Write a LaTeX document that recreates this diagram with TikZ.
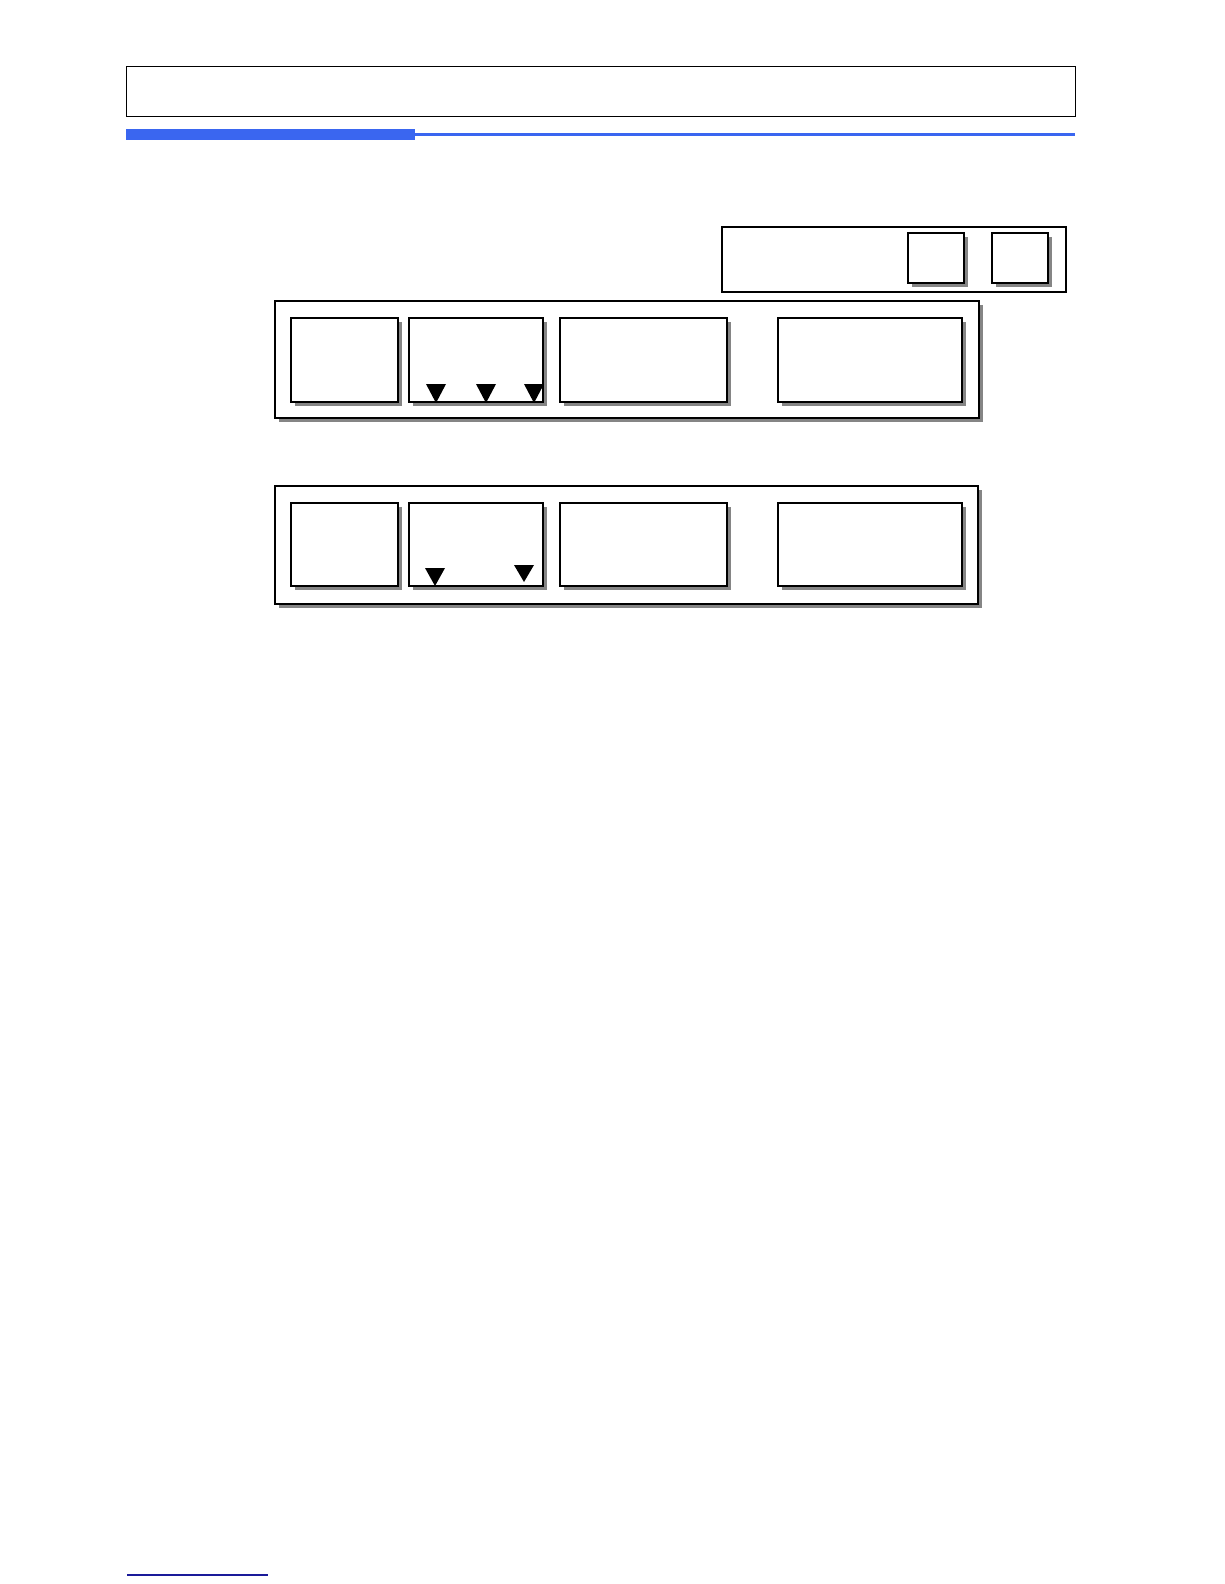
\documentclass[tikz,border=0pt]{standalone}
\usetikzlibrary{shadows}
\definecolor{barblue}{HTML}{3A66F0}
\definecolor{footblue}{HTML}{1A1A99}
\definecolor{shadowgray}{HTML}{858585}
\begin{document}
\begin{tikzpicture}[x=1pt,y=-1pt,
  frame/.style={draw=black,line width=1.3pt,fill=white,inner sep=0pt,
    drop shadow={shadow xshift=4pt,shadow yshift=-4pt,fill=shadowgray,opacity=1}},
  cell/.style={draw=black,line width=1.8pt,fill=white,inner sep=0pt,
    drop shadow={shadow xshift=4pt,shadow yshift=-4pt,fill=shadowgray,opacity=1}},
  plainbox/.style={draw=black,line width=1pt,fill=white,inner sep=0pt},
  tri/.style={fill=black}]
\fill[white] (0,0) rectangle (1224,1584);
\useasboundingbox (0,0) rectangle (1224,1584);
% header
\node[plainbox,minimum width=949pt,minimum height=50pt] (header) at (600.5,92) {};
\fill[barblue] (126,129) rectangle (415,140);
\fill[barblue] (415,133.5) rectangle (1075,136.5);
\draw[footblue,line width=1.2pt] (127,1575) -- (268,1575);
% top-right panel
\node[draw=black,line width=2pt,fill=white,inner sep=0pt,minimum width=344pt,minimum height=65pt] (panel) at (894,259.5) {};
\node[cell,minimum width=56pt,minimum height=50pt] (s1) at (936,258) {};
\node[cell,minimum width=56pt,minimum height=50pt] (s2) at (1020,258) {};
% row 1
\node[frame,minimum width=704pt,minimum height=117pt] (r1) at (627,359.5) {};
\node[cell,minimum width=107pt,minimum height=84pt] (a1) at (344.5,360) {};
\node[cell,minimum width=134pt,minimum height=84pt] (b1) at (476,360) {};
\node[cell,minimum width=167pt,minimum height=84pt] (c1) at (643.5,360) {};
\node[cell,minimum width=184pt,minimum height=84pt] (d1) at (870,360) {};
\fill[tri] (426,384) -- (446,384) -- (436,403) -- cycle;
\fill[tri] (476,384) -- (496,384) -- (486,403) -- cycle;
\fill[tri] (524,384) -- (544,384) -- (534,403) -- cycle;
% row 2
\node[frame,minimum width=703pt,minimum height=118pt] (r2) at (626.5,545) {};
\node[cell,minimum width=107pt,minimum height=83pt] (a2) at (344.5,544.5) {};
\node[cell,minimum width=134pt,minimum height=83pt] (b2) at (476,544.5) {};
\node[cell,minimum width=167pt,minimum height=83pt] (c2) at (643.5,544.5) {};
\node[cell,minimum width=184pt,minimum height=83pt] (d2) at (870,544.5) {};
\fill[tri] (425,568) -- (445,568) -- (435,586) -- cycle;
\fill[tri] (514,565) -- (534,565) -- (524,582) -- cycle;
\end{tikzpicture}
\end{document}
